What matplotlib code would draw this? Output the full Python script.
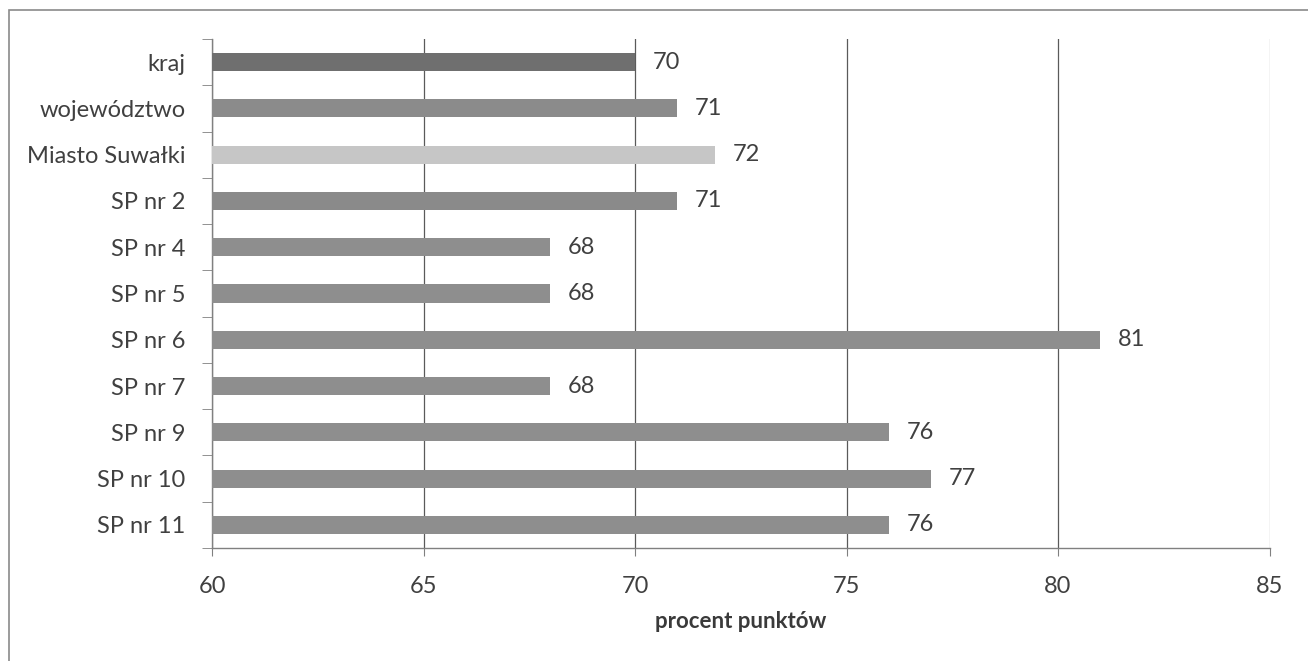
import matplotlib
matplotlib.use("Agg")
import matplotlib.pyplot as plt
import matplotlib.patches as patches
import numpy as np

categories = ["kraj", "województwo", "Miasto Suwałki", "SP nr 2", "SP nr 4",
              "SP nr 5", "SP nr 6", "SP nr 7", "SP nr 9", "SP nr 10", "SP nr 11"]
values = [70.0, 71.0, 71.9, 71.0, 68.0, 68.0, 81.0, 68.0, 76.0, 77.0, 76.0]
value_labels = ["70", "71", "72", "71", "68", "68", "81", "68", "76", "77", "76"]
bar_colors = ["#6f6f6f", "#8b8b8b", "#c6c6c6", "#8a8a8a", "#8e8e8e", "#8e8e8e",
              "#8e8e8e", "#8e8e8e", "#8e8e8e", "#8e8e8e", "#8e8e8e"]
x_ticks = [60, 65, 70, 75, 80, 85]

plt.rcParams['font.family'] = ['Lato', 'DejaVu Sans']
text_color = "#404040"

fig = plt.figure(figsize=(13.08, 6.61), dpi=100)
ax = fig.add_axes([0.1621, 0.171, 0.8085, 0.770])

y = np.arange(len(categories))
ax.barh(y, [v - 60 for v in values], left=60, height=0.39, color=bar_colors, zorder=3)

for yi, v, lab in zip(y, values, value_labels):
    ax.text(v + 0.42, yi, lab, va='center', ha='left', fontsize=17, color=text_color)

ax.set_xlim(60, 85)
ax.set_ylim(len(categories) - 0.5, -0.5)
ax.set_xticks(x_ticks)
ax.set_xticklabels([str(t) for t in x_ticks], fontsize=17, color=text_color)
ax.set_yticks(y)
ax.set_yticklabels(categories, fontsize=17, color=text_color)
ax.set_yticks(np.arange(len(categories) + 1) - 0.5, minor=True)
ax.tick_params(axis='y', which='major', length=0, pad=19)
ax.tick_params(axis='y', which='minor', length=7, direction='out', color="#808080")
ax.tick_params(axis='x', length=6, direction='out', color="#808080", pad=14)

ax.grid(axis='x', color="#5a5a5a", linewidth=0.9, zorder=0)
ax.xaxis.get_gridlines()[-1].set_color("#a8a8a8")
ax.set_axisbelow(True)
for side in ['top', 'right']:
    ax.spines[side].set_visible(False)
for side in ['left', 'bottom']:
    ax.spines[side].set_color("#808080")
    ax.spines[side].set_linewidth(1.0)

ax.set_xlabel("procent punktów", fontsize=16, fontweight='bold', color="#3a3a3a", labelpad=10)

# outer chart frame
frame = patches.Rectangle((9 / 1308, -0.1), 1.2, 1 - 10 / 661 + 0.1, transform=fig.transFigure,
                          fill=False, edgecolor="#8a8a8a", linewidth=1.2)
fig.patches.append(frame)

fig.savefig("out.png", dpi=100, facecolor="white")
